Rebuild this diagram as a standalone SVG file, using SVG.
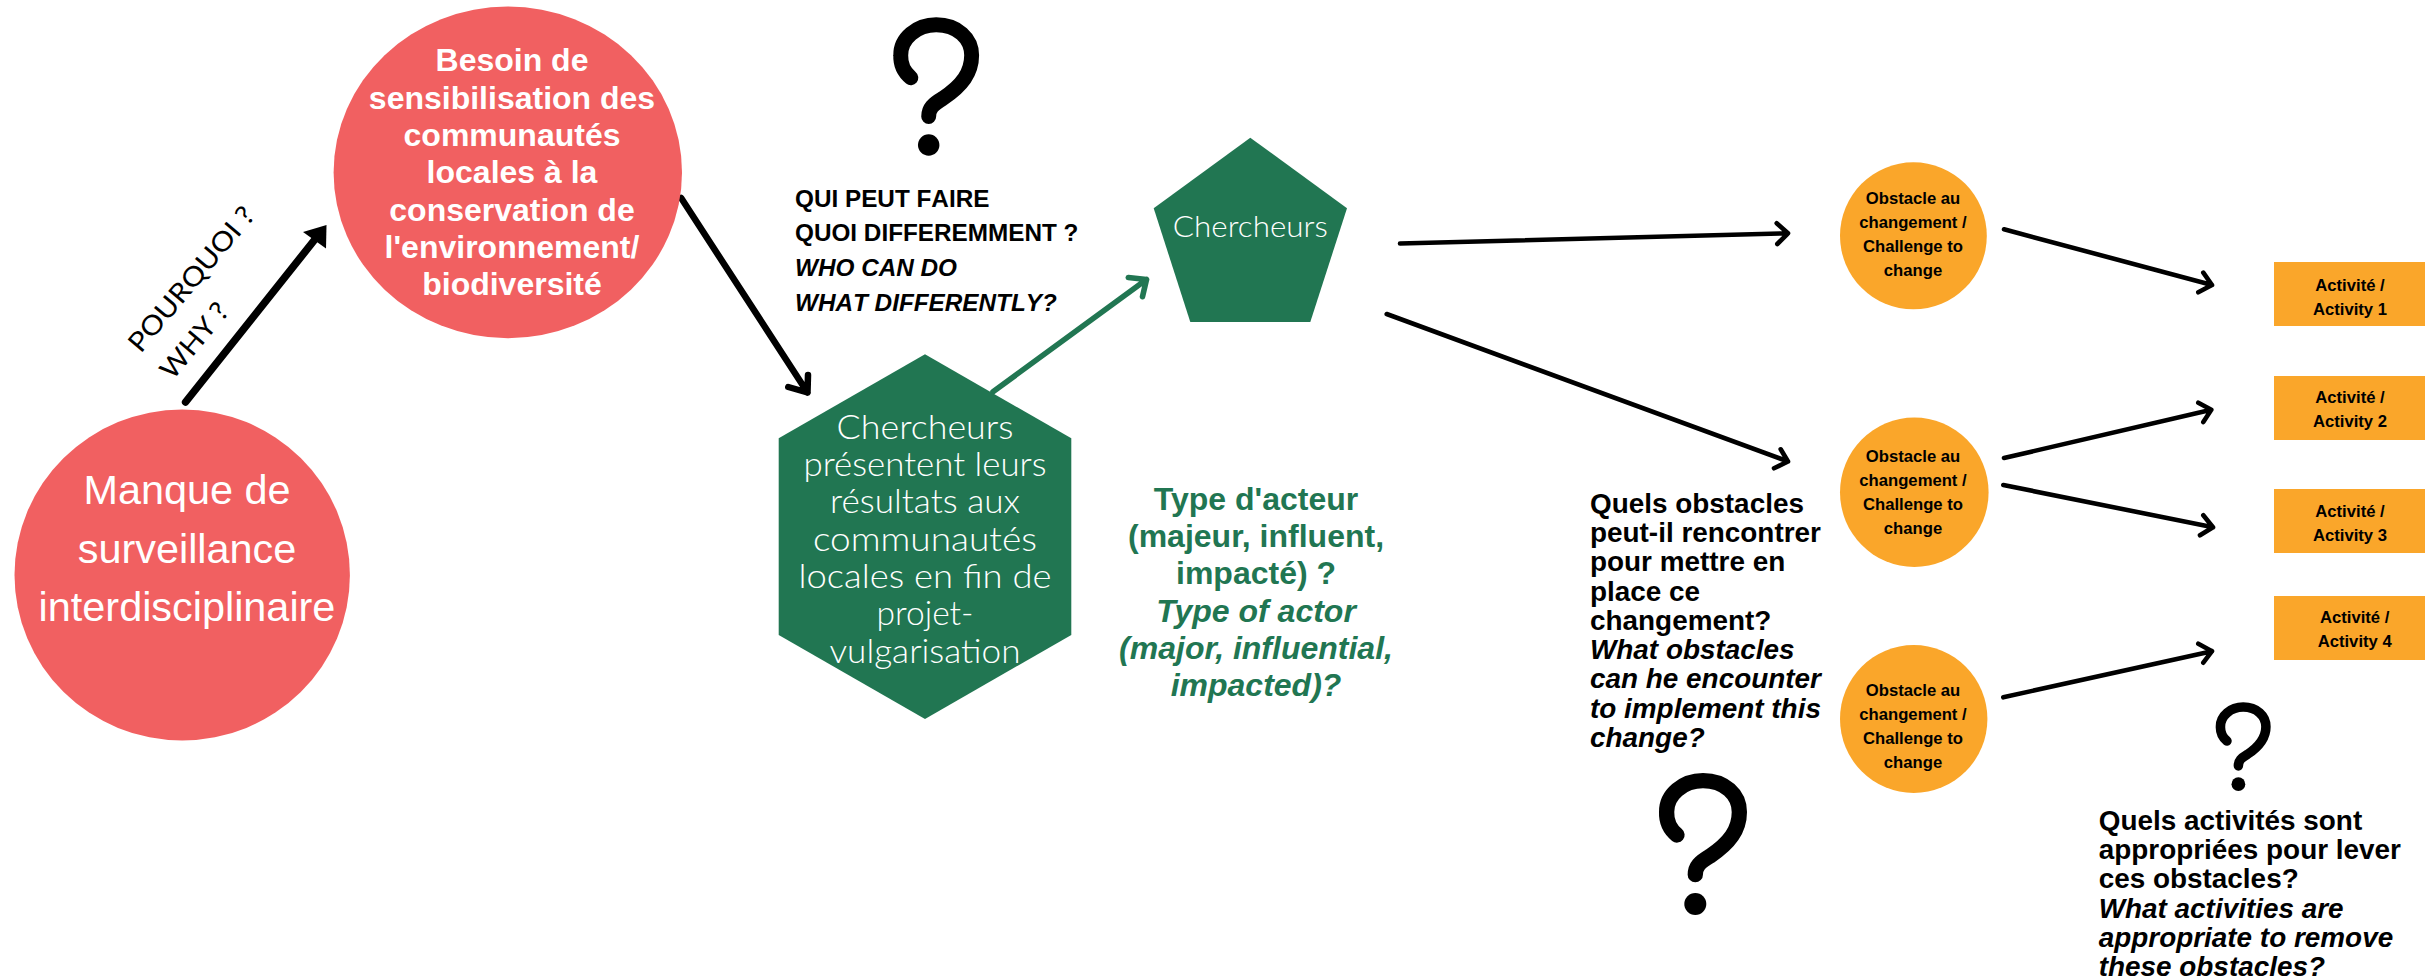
<svg xmlns="http://www.w3.org/2000/svg" width="2432" height="980" viewBox="0 0 2432 980">
<style>
text{font-family:"Liberation Sans",Arial,sans-serif}
.red{fill:#F16061}.green{fill:#217652}.orange{fill:#FAA62A}
.c{text-anchor:middle}
text.geo{font-family:Lato,"Open Sans",sans-serif;font-weight:300;fill:#fff;text-anchor:middle}
text.why{font-family:Lato,"Open Sans",sans-serif;font-weight:400;fill:#000;text-anchor:middle;font-size:27px}
.b{font-weight:700}.i{font-style:italic}
.w{fill:#fff}.k{fill:#000}.g{fill:#217652}
.s16{font-size:16.67px;font-weight:700;fill:#000;text-anchor:middle}
.s28{font-size:27.9px;font-weight:700;fill:#000}
.s24{font-size:24.3px;font-weight:700;fill:#000;font-kerning:none}
.s32{font-size:32px;font-weight:700}
.s41{font-size:41.4px;fill:#fff;text-anchor:middle}
.line{fill:none;stroke:#000;stroke-width:4.6;stroke-linecap:round;stroke-linejoin:round}
.thick{stroke-width:6.5}
.thicker{stroke-width:7.5}
.gl{stroke:#217652;stroke-width:5.6}
.qs{fill:none;stroke:#000;stroke-width:15.3;stroke-linecap:round}
</style>
<defs>
<g id="qmark">
<path class="qs" d="M18 62C10.700 56 7.300 48.300 7.650 39C7.300 21.700 24 7.650 44 7.650C65.700 7.650 80.350 21.700 80.350 39C80.350 56.700 70.700 70 50.700 83.300C40.700 89.300 36.300 93.300 36.300 101.700"/>
<circle cx="36.300" cy="131" r="11"/>
</g>
</defs>
<g id="connectors">
<path class="line thicker" d="M185.600 402L320 233"/>
<polygon points="303,232 326.500,225 326,248.500"/>
<path class="line thick" d="M681 197.800L807.500 392.500M788.300 387L807.500 392.500L808 375"/>
<path class="line gl" d="M993 391.700L1146.500 279.500M1128.300 277.500L1146.500 279.500L1142.500 296.700"/>
<path class="line" d="M1400 243.500L1788 233.300M1776.700 223.300L1788 233.300L1777.300 244"/>
<path class="line" d="M1386.700 314L1788 461.500M1780.700 449.300L1788 461.500L1774 468.300"/>
<path class="line" d="M2004 229.300L2212 285M2203.300 272.700L2212 285L2198.300 292.300"/>
<path class="line" d="M2004 458L2211.300 409.800M2198.300 402.700L2211.300 409.800L2203.300 422"/>
<path class="line" d="M2003.300 485L2213 527.300M2203.300 515.300L2213 527.300L2200 535.300"/>
<path class="line" d="M2003.300 697.300L2212 651.200M2198.300 643.700L2212 651.200L2203.300 662.700"/>
</g>
<g id="node-manque">
<ellipse class="red" cx="182.200" cy="575" rx="167.700" ry="165.500"/>
<text class="s41" x="187" y="504">Manque de</text>
<text class="s41" x="187" y="562.500">surveillance</text>
<text class="s41" x="187" y="621">interdisciplinaire</text>
</g>
<g id="node-besoin">
<ellipse class="red" cx="507.800" cy="172.400" rx="174.200" ry="165.800"/>
<text class="c w s32" x="512" y="71.300">Besoin de</text>
<text class="c w s32" x="512" y="108.600">sensibilisation des</text>
<text class="c w s32" x="512" y="146">communautés</text>
<text class="c w s32" x="512" y="183.200">locales à la</text>
<text class="c w s32" x="512" y="220.500">conservation de</text>
<text class="c w s32" x="512" y="257.800">l'environnement/</text>
<text class="c w s32" x="512" y="295">biodiversité</text>
</g>
<g id="node-presentent">
<polygon class="green" points="925,354.300 1071.300,438.300 1071.300,635 925,719 778.700,635 778.700,438.300"/>
<text class="geo" font-size="33.500" x="925" y="439.300" textLength="177" lengthAdjust="spacingAndGlyphs">Chercheurs</text>
<text class="geo" font-size="33.500" x="925" y="476" textLength="243" lengthAdjust="spacingAndGlyphs">présentent leurs</text>
<text class="geo" font-size="33.500" x="925" y="513.300" textLength="190" lengthAdjust="spacingAndGlyphs">résultats aux</text>
<text class="geo" font-size="33.500" x="925" y="550.700" textLength="224" lengthAdjust="spacingAndGlyphs">communautés</text>
<text class="geo" font-size="33.500" x="925" y="587.900" textLength="253" lengthAdjust="spacingAndGlyphs">locales en fin de</text>
<text class="geo" font-size="33.500" x="925" y="625.200" textLength="97" lengthAdjust="spacingAndGlyphs">projet-</text>
<text class="geo" font-size="33.500" x="925" y="662.500" textLength="191" lengthAdjust="spacingAndGlyphs">vulgarisation</text>
</g>
<g id="node-chercheurs">
<polygon class="green" points="1250.300,137.700 1347,208.300 1310.300,322 1190.300,322 1153.700,208.300"/>
<text class="geo" font-size="29.500" x="1250.300" y="237.300" textLength="155" lengthAdjust="spacingAndGlyphs">Chercheurs</text>
</g>
<g id="node-obstacle-1">
<ellipse class="orange" cx="1913.400" cy="235.800" rx="73.400" ry="73.500"/>
<text class="s16" x="1913" y="204">Obstacle au</text>
<text class="s16" x="1913" y="228">changement /</text>
<text class="s16" x="1913" y="252">Challenge to</text>
<text class="s16" x="1913" y="276">change</text>
</g>
<g id="node-obstacle-2">
<ellipse class="orange" cx="1914.300" cy="492.300" rx="74.300" ry="74.700"/>
<text class="s16" x="1913" y="462">Obstacle au</text>
<text class="s16" x="1913" y="486">changement /</text>
<text class="s16" x="1913" y="510">Challenge to</text>
<text class="s16" x="1913" y="534">change</text>
</g>
<g id="node-obstacle-3">
<ellipse class="orange" cx="1913.700" cy="719" rx="73.700" ry="74"/>
<text class="s16" x="1913" y="696">Obstacle au</text>
<text class="s16" x="1913" y="720">changement /</text>
<text class="s16" x="1913" y="744">Challenge to</text>
<text class="s16" x="1913" y="768">change</text>
</g>
<g id="node-activity-1">
<rect class="orange" x="2274" y="262" width="151" height="64"/>
<text class="s16" x="2350" y="290.700">Activité /</text>
<text class="s16" x="2350" y="314.700">Activity 1</text>
</g>
<g id="node-activity-2">
<rect class="orange" x="2274" y="376" width="151" height="64"/>
<text class="s16" x="2350" y="402.700">Activité /</text>
<text class="s16" x="2350" y="426.700">Activity 2</text>
</g>
<g id="node-activity-3">
<rect class="orange" x="2274" y="489" width="151" height="64"/>
<text class="s16" x="2350" y="516.700">Activité /</text>
<text class="s16" x="2350" y="540.700">Activity 3</text>
</g>
<g id="node-activity-4">
<rect class="orange" x="2274" y="596" width="151" height="64"/>
<text class="s16" x="2354.700" y="622.700">Activité /</text>
<text class="s16" x="2354.700" y="646.700">Activity 4</text>
</g>
<g id="label-why">
<text class="why" transform="translate(198.500 285) rotate(-50)" textLength="180" lengthAdjust="spacingAndGlyphs">POURQUOI ?</text>
<text class="why" transform="translate(201.500 346.500) rotate(-50)" textLength="90" lengthAdjust="spacingAndGlyphs">WHY ?</text>
</g>
<g id="label-who">
<use href="#qmark" transform="translate(893.300 17.300) scale(.975)"/>
<text class="s24" x="795" y="206.700">QUI PEUT FAIRE</text>
<text class="s24" x="795" y="241.300">QUOI DIFFEREMMENT ?</text>
<text class="s24 i" x="795" y="275.900">WHO CAN DO</text>
<text class="s24 i" x="795" y="310.500">WHAT DIFFERENTLY?</text>
</g>
<g id="label-type">
<text class="c g s32" x="1256" y="510">Type d'acteur</text>
<text class="c g s32" x="1256" y="547">(majeur, influent,</text>
<text class="c g s32" x="1256" y="584.200">impacté) ?</text>
<text class="c g s32 i" x="1256" y="621.500">Type of actor</text>
<text class="c g s32 i" x="1256" y="658.700">(major, influential,</text>
<text class="c g s32 i" x="1256" y="696">impacted)?</text>
</g>
<g id="label-obstacles">
<text class="s28" x="1590" y="512.700">Quels obstacles</text>
<text class="s28" x="1590" y="542">peut-il rencontrer</text>
<text class="s28" x="1590" y="571.300">pour mettre en</text>
<text class="s28" x="1590" y="600.600">place ce</text>
<text class="s28" x="1590" y="629.800">changement?</text>
<text class="s28 i" x="1590" y="659">What obstacles</text>
<text class="s28 i" x="1590" y="688.300">can he encounter</text>
<text class="s28 i" x="1590" y="717.500">to implement this</text>
<text class="s28 i" x="1590" y="746.700">change?</text>
<use href="#qmark" transform="translate(1659 773)"/>
</g>
<g id="label-activities">
<use href="#qmark" transform="translate(2215.700 702.300) scale(.625)"/>
<text class="s28" x="2098.700" y="830">Quels activités sont</text>
<text class="s28" x="2098.700" y="859">appropriées pour lever</text>
<text class="s28" x="2098.700" y="888">ces obstacles?</text>
<text class="s28 i" x="2098.700" y="917.500">What activities are</text>
<text class="s28 i" x="2098.700" y="946.700">appropriate to remove</text>
<text class="s28 i" x="2098.700" y="976">these obstacles?</text>
</g>
</svg>
